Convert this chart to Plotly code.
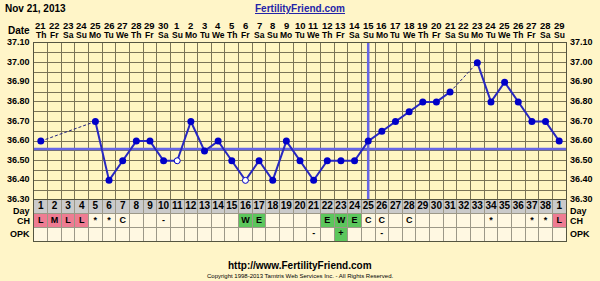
import plotly.graph_objects as go
from plotly.subplots import make_subplots

dates = [21,22,23,24,25,26,27,28,29,30,1,2,3,4,5,6,7,8,9,10,11,12,13,14,15,16,17,18,19,20,21,22,23,24,25,26,27,28,29]
weekdays = ["Th","Fr","Sa","Su","Mo","Tu","We"]
cycle_days = list(range(1, 39)) + [1]
temps = [36.60, None, None, None, 36.70, 36.40, 36.50, 36.60, 36.60, 36.50,
         36.50, 36.70, 36.55, 36.60, 36.50, 36.40, 36.50, 36.40, 36.60, 36.50,
         36.40, 36.50, 36.50, 36.50, 36.60, 36.65, 36.70, 36.75, 36.80, 36.80,
         36.85, None, 37.00, 36.80, 36.90, 36.80, 36.70, 36.70, 36.60]
open_days = [11, 16]
cm = {1:"L",2:"M",3:"L",4:"L",5:"*",6:"*",7:"C",10:"-",16:"W",17:"E",22:"E",23:"W",24:"E",
      25:"C",26:"C",28:"C",34:"*",37:"*",38:"*",39:"L"}
opk = {21:"-",23:"+",26:"-"}
coverline = 36.56
ovulation_col = 25
y_ticks = [36.30,36.40,36.50,36.60,36.70,36.80,36.90,37.00,37.10]

PAPER = "#FFF5C8"
PLOT = "#FFF6C2"
GRID = "#7A7456"
BLUE = "#0000C8"
COVER = "#6666E6"
FONT = "Liberation Sans"

n = len(dates)
cols = list(range(1, n + 1))

fig = make_subplots(rows=2, cols=1, shared_xaxes=True, vertical_spacing=0,
                    row_heights=[157, 41])

# dashed segments across gaps
valid = [i for i in range(n) if temps[i] is not None]
for a, b in zip(valid[:-1], valid[1:]):
    if b - a > 1:
        fig.add_trace(go.Scatter(x=[cols[a], cols[b]], y=[temps[a], temps[b]], mode="lines",
                                 line=dict(color="#202080", width=1, dash="3px,2px"),
                                 hoverinfo="skip", showlegend=False), row=1, col=1)

# coverline and ovulation line
fig.add_trace(go.Scatter(x=[0.5, n + 0.5], y=[coverline, coverline], mode="lines",
                         line=dict(color=COVER, width=2.5), showlegend=False), row=1, col=1)
fig.add_trace(go.Scatter(x=[ovulation_col, ovulation_col], y=[36.30, 37.10], mode="lines",
                         line=dict(color=COVER, width=2.5), showlegend=False), row=1, col=1)

# solid temp line
fig.add_trace(go.Scatter(x=cols, y=temps, mode="lines", connectgaps=False,
                         line=dict(color="#2828C0", width=2), showlegend=False), row=1, col=1)
fill_cols = [c for c in cols if temps[c-1] is not None and c not in open_days]
fig.add_trace(go.Scatter(x=fill_cols, y=[temps[c-1] for c in fill_cols], mode="markers",
                         marker=dict(size=7, color=BLUE, line=dict(color=BLUE, width=0)),
                         showlegend=False), row=1, col=1)
fig.add_trace(go.Scatter(x=open_days, y=[temps[c-1] for c in open_days], mode="markers",
                         marker=dict(size=6, color="white", line=dict(color=BLUE, width=1)),
                         showlegend=False), row=1, col=1)

# table cells
def cell_color(v):
    if v in ("L", "M", "H"):
        return "#EE7C92"
    if v in ("W", "E", "S", "+"):
        return "#5CC65C"
    return "#FFF8E2"

for c in cols:
    fig.add_shape(type="rect", x0=c-0.5, x1=c+0.5, y0=2, y1=3, xref="x2", yref="y2",
                  fillcolor="#CACACA", line=dict(width=0), layer="below")
    fig.add_shape(type="rect", x0=c-0.5, x1=c+0.5, y0=1, y1=2, xref="x2", yref="y2",
                  fillcolor=cell_color(cm.get(c, "")), line=dict(width=0), layer="below")
    fig.add_shape(type="rect", x0=c-0.5, x1=c+0.5, y0=0, y1=1, xref="x2", yref="y2",
                  fillcolor=cell_color(opk.get(c, "")), line=dict(width=0), layer="below")

fig.add_trace(go.Scatter(x=cols, y=[2.5]*n, mode="text", text=[f"<b>{d}</b>" for d in cycle_days],
                         textfont=dict(family=FONT, size=10, color="black"), showlegend=False), row=2, col=1)
cm_cols = list(cm.keys())
fig.add_trace(go.Scatter(x=cm_cols, y=[1.5]*len(cm_cols), mode="text",
                         text=[f"<b>{cm[c]}</b>" for c in cm_cols],
                         textfont=dict(family=FONT, size=9, color="black"), showlegend=False), row=2, col=1)
opk_cols = list(opk.keys())
fig.add_trace(go.Scatter(x=opk_cols, y=[0.5]*len(opk_cols), mode="text",
                         text=[f"<b>{opk[c]}</b>" for c in opk_cols],
                         textfont=dict(family=FONT, size=9, color="black"), showlegend=False), row=2, col=1)

bounds = [c + 0.5 for c in range(0, n + 1)]
fig.update_xaxes(range=[0.5, n + 0.5], tickvals=bounds, showticklabels=False, ticks="",
                 showgrid=True, gridcolor=GRID, gridwidth=1, zeroline=False,
                 showline=True, linecolor="#555540", mirror=True)
fig.update_xaxes(gridcolor="#9C9888", row=2, col=1)
minor = [round(36.30 + 0.05 * i, 2) for i in range(17)]
fig.update_yaxes(range=[36.30, 37.10], tickvals=minor, showticklabels=False, ticks="",
                 showgrid=True, gridcolor=GRID, gridwidth=1, zeroline=False,
                 showline=True, linecolor="#555540", mirror=True, row=1, col=1)
fig.update_yaxes(range=[0, 3], tickvals=[0, 1, 2, 3], showticklabels=False, ticks="",
                 showgrid=True, gridcolor="#9C9888", zeroline=False,
                 showline=True, linecolor="#555540", mirror=True, row=2, col=1)

ann = []
for t in y_ticks:
    for xx, anc in ((0, "right"), (1, "left")):
        ann.append(dict(x=xx, y=t, xref="paper", yref="y", text=f"<b>{t:.2f}</b>",
                        xanchor=anc, xshift=-2 if anc == "right" else 2, yshift=1, showarrow=False,
                        font=dict(family=FONT, size=9, color="black")))
for lab, yy in (("Day", 2.2), ("CH", 1.5), ("OPK", 0.5)):
    for xx, anc in ((0, "right"), (1, "left")):
        ann.append(dict(x=xx, y=yy, xref="paper", yref="y2", text=f"<b>{lab}</b>",
                        xanchor=anc, xshift=-2 if anc == "right" else 2, showarrow=False,
                        font=dict(family=FONT, size=9, color="black")))
for c in cols:
    ann.append(dict(x=c, y=1, xref="x", yref="paper", yshift=18, yanchor="middle",
                    text=f"<b>{dates[c-1]}</b>",
                    showarrow=False, font=dict(family=FONT, size=9.5, color="black")))
    ann.append(dict(x=c, y=1, xref="x", yref="paper", yshift=8, yanchor="middle",
                    text=f"<b>{weekdays[(c-1) % 7]}</b>",
                    showarrow=False, font=dict(family=FONT, size=8.5, color="black")))
ann.append(dict(x=0, y=1, xref="paper", yref="paper", yshift=13, yanchor="middle", xanchor="right",
                xshift=-2, text="<b>Date</b>", showarrow=False,
                font=dict(family=FONT, size=10, color="black")))

fig.update_layout(
    width=600, height=281, paper_bgcolor=PAPER, plot_bgcolor=PLOT,
    margin=dict(l=34, r=34, t=43, b=40), showlegend=False, annotations=ann,
)
plot_h = 281 - 43 - 40
def py(pix):
    return (281 - 40 - pix) / plot_h
def px(pix):
    return (pix - 34) / (600 - 68)
fig.add_annotation(x=px(3), y=py(8), xref="paper", yref="paper", xanchor="left", yanchor="middle",
                   text="<b>Nov 21, 2013</b>", showarrow=False, font=dict(family=FONT, size=10, color="black"))
fig.add_annotation(x=px(300), y=py(8), xref="paper", yref="paper", xanchor="center", yanchor="middle",
                   text="<b><u>FertilityFriend.com</u></b>", showarrow=False,
                   font=dict(family=FONT, size=10, color="#2424A8"))
fig.add_annotation(x=px(300), y=py(265), xref="paper", yref="paper", xanchor="center", yanchor="middle",
                   text="<b>http://www.FertilityFriend.com</b>", showarrow=False,
                   font=dict(family=FONT, size=10, color="black"))
fig.add_annotation(x=px(300), y=py(276), xref="paper", yref="paper", xanchor="center", yanchor="middle",
                   text="Copyright 1998-2013 Tamtris Web Services Inc. - All Rights Reserved.", showarrow=False,
                   font=dict(family=FONT, size=6, color="black"))

fig.write_html("out.html")
